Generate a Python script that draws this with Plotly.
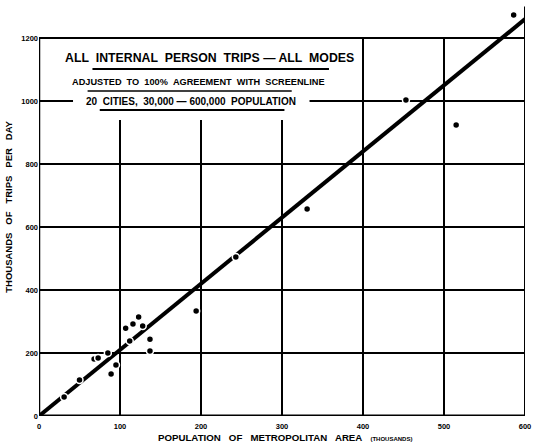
import plotly.graph_objects as go

# Metropolitan population (thousands) and internal person trips per day (thousands)
population = [31, 50, 68, 73, 85, 89, 95, 107, 112, 116, 123, 128, 137, 137, 194, 243, 331, 453, 515, 586]
trips = [60, 114, 181, 184, 200, 133, 162, 279, 238, 292, 314, 286, 244, 206, 333, 505, 657, 1003, 924, 1273]

# Fitted relationship
trend_x = [0, 600]
trend_y = [0, 1260]

x_ticks = [0, 100, 200, 300, 400, 500, 600]
y_ticks = [0, 200, 400, 600, 800, 1000, 1200]

FONT = "Liberation Sans"
INK = "black"
SP = "\u00a0\u00a0"  # wide word spacing for the lettering

fig = go.Figure()

fig.add_trace(go.Scatter(
    x=trend_x, y=trend_y, mode="lines",
    line=dict(color=INK, width=4), cliponaxis=False, hoverinfo="skip",
))
fig.add_trace(go.Scatter(
    x=population, y=trips, mode="markers",
    marker=dict(color=INK, size=7, line=dict(color="white", width=1.5)),
    cliponaxis=False,
))

shapes = []


def seg(x0, y0, x1, y1, w=2):
    shapes.append(dict(type="line", xref="x", yref="y", x0=x0, y0=y0, x1=x1, y1=y1,
                       line=dict(color=INK, width=w), layer="below"))


# horizontal rules
for v in [200, 400, 600, 800]:
    seg(0, v, 600, v)
seg(0, 1200, 600, 1200)
seg(0, 1000, 42, 1000)
seg(334, 1000, 600, 1000)
# vertical rules (the three left ones stop below the caption)
for v in [100, 200, 300]:
    seg(v, 0, v, 940)
for v in [400, 500]:
    seg(v, 0, v, 1200)
seg(600, 0, 600, 1300)
# axes
seg(0, 0, 0, 1200, 2.5)
seg(0, 0, 600, 0, 3)
# caption underlines
seg(66, 1102, 358, 1102, 2)
seg(60, 1032, 312, 1032, 1.5)
seg(75, 972, 303, 972, 2)

annotations = [
    dict(x=210, y=1137, xref="x", yref="y", showarrow=False,
         text=f"ALL{SP}INTERNAL{SP}PERSON{SP}TRIPS \u2014 ALL{SP}MODES",
         font=dict(family=FONT, size=12.3, color=INK, weight="bold")),
    dict(x=197, y=1060, xref="x", yref="y", showarrow=False,
         text=f"ADJUSTED{SP}TO{SP}100%{SP}AGREEMENT{SP}WITH{SP}SCREENLINE",
         font=dict(family=FONT, size=9.2, color=INK, weight="bold")),
    dict(x=188, y=1000, xref="x", yref="y", showarrow=False,
         text=f"20{SP}CITIES,{SP}30,000 \u2014 600,000{SP}POPULATION",
         font=dict(family=FONT, size=10, color=INK, weight="bold")),
    dict(x=0.24, y=-0.052, xref="paper", yref="paper", xanchor="left", yanchor="middle",
         showarrow=False,
         text=f"POPULATION{SP} OF{SP} METROPOLITAN{SP} AREA{SP} <span style='font-size:6px'>(THOUSANDS)</span>",
         font=dict(family=FONT, size=9.7, color=INK, weight="bold")),
    dict(x=-0.063, y=0.51, xref="paper", yref="paper", xanchor="center", yanchor="middle",
         showarrow=False, textangle=-90,
         text=f"THOUSANDS{SP} OF{SP} TRIPS{SP} PER{SP} DAY",
         font=dict(family=FONT, size=9.5, color=INK, weight="bold")),
]

fig.update_layout(
    width=536, height=447,
    margin=dict(l=39, r=9, t=5, b=31),
    paper_bgcolor="white", plot_bgcolor="white",
    showlegend=False,
    shapes=shapes,
    annotations=annotations,
    xaxis=dict(range=[0, 600], tickvals=x_ticks, ticktext=[str(t) for t in x_ticks],
               showgrid=False, zeroline=False, showline=False,
               ticks="outside", ticklen=3, tickcolor="rgba(0,0,0,0)",
               tickfont=dict(family=FONT, size=7.5, color=INK, weight="bold")),
    yaxis=dict(range=[0, 1305], tickvals=y_ticks, ticktext=[str(t) for t in y_ticks],
               showgrid=False, zeroline=False, showline=False, ticks="",
               tickfont=dict(family=FONT, size=7.5, color=INK, weight="bold")),
)

fig.write_html("out.html")
